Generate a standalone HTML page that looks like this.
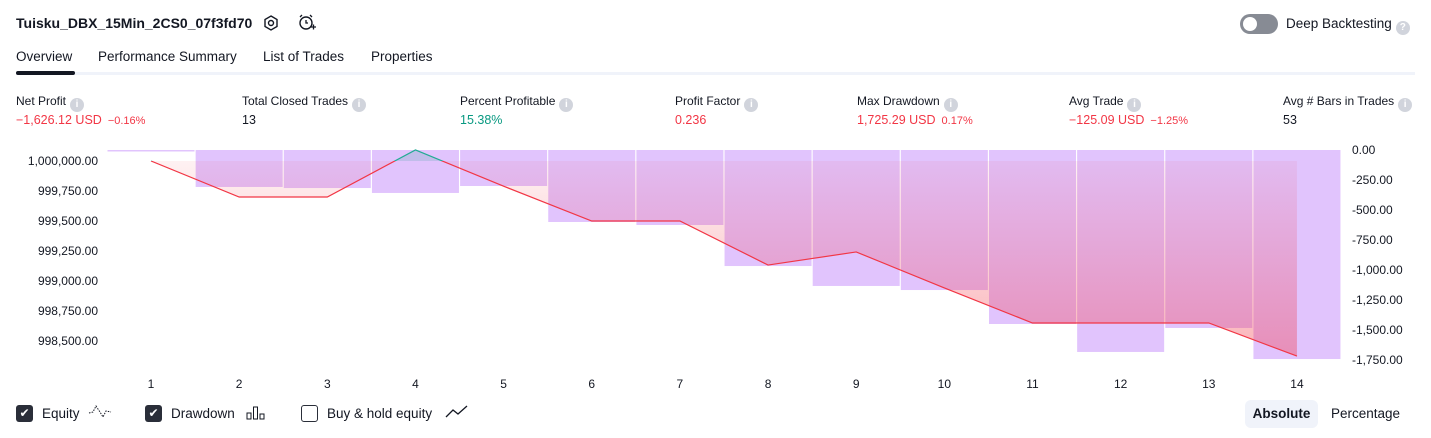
<!DOCTYPE html>
<html><head><meta charset="utf-8"><style>
*{box-sizing:border-box;margin:0;padding:0}
body{width:1431px;height:438px;background:#fff;font-family:"Liberation Sans",sans-serif;color:#131722;position:relative;overflow:hidden}
.abs{position:absolute;white-space:nowrap}
.title{left:16px;top:15px;font-size:14px;font-weight:bold}
.tab{top:49px;font-size:13.5px}
.lbl{top:94px;font-size:12px}
.val{top:113px;font-size:12.5px}
.red{color:#f23645}.green{color:#089981}
.info{display:inline-block;width:14px;height:14px;border-radius:50%;background:#d1d4dc;color:#fff;font-size:10px;text-align:center;line-height:14px;font-weight:bold;vertical-align:-2px;margin-left:4px}
.pct{font-size:11px;margin-left:6px}
.cb{width:17px;height:17px;border-radius:3px;background:#2a2e39;color:#fff;font-size:12px;text-align:center;line-height:17px}
.cbe{width:17px;height:17px;border-radius:3px;border:1.5px solid #2a2e39}
.leg{font-size:13.5px;top:406px}
</style></head><body>
<div class="abs title">Tuisku_DBX_15Min_2CS0_07f3fd70</div>
<svg class="abs" style="left:262px;top:14px" width="18" height="18"><polygon points="9,2 15,5.5 15,12.5 9,16 3,12.5 3,5.5" fill="none" stroke="#131722" stroke-width="1.4"/><circle cx="9" cy="9" r="2.5" fill="none" stroke="#131722" stroke-width="1.4"/></svg>
<svg class="abs" style="left:297px;top:13px" width="20" height="20"><circle cx="9" cy="10" r="6" fill="none" stroke="#131722" stroke-width="1.4"/><path d="M9 7v3h2M3 4l2-2M15 4l-2-2M14 14h5M16.5 11.5v5" stroke="#131722" stroke-width="1.3" fill="none"/></svg>
<div class="abs" style="left:1240px;top:14px;width:38px;height:20px;border-radius:10px;background:#878b94"><div style="position:absolute;left:3px;top:3px;width:14px;height:14px;border-radius:50%;background:#fff"></div></div>
<div class="abs" style="left:1286px;top:16px;font-size:13.5px">Deep Backtesting<span class="info">?</span></div>
<div class="abs tab" style="left:16px">Overview</div>
<div class="abs tab" style="left:98px">Performance Summary</div>
<div class="abs tab" style="left:263px">List of Trades</div>
<div class="abs tab" style="left:371px">Properties</div>
<div class="abs" style="left:16px;top:72px;width:1399px;height:3px;background:#f0f3fa"></div>
<div class="abs" style="left:16px;top:71px;width:59px;height:4px;border-radius:2px;background:#131722"></div>

<div class="abs lbl" style="left:16px">Net Profit<span class="info">i</span></div>
<div class="abs val red" style="left:16px">−1,626.12 USD<span class="pct">−0.16%</span></div>
<div class="abs lbl" style="left:242px">Total Closed Trades<span class="info">i</span></div>
<div class="abs val" style="left:242px">13</div>
<div class="abs lbl" style="left:460px">Percent Profitable<span class="info">i</span></div>
<div class="abs val green" style="left:460px">15.38%</div>
<div class="abs lbl" style="left:675px">Profit Factor<span class="info">i</span></div>
<div class="abs val red" style="left:675px">0.236</div>
<div class="abs lbl" style="left:857px">Max Drawdown<span class="info">i</span></div>
<div class="abs val red" style="left:857px">1,725.29 USD<span class="pct">0.17%</span></div>
<div class="abs lbl" style="left:1069px">Avg Trade<span class="info">i</span></div>
<div class="abs val red" style="left:1069px">−125.09 USD<span class="pct">−1.25%</span></div>
<div class="abs lbl" style="left:1283px">Avg # Bars in Trades<span class="info">i</span></div>
<div class="abs val" style="left:1283px">53</div>

<svg id="chart" class="abs" style="left:0;top:0" width="1431" height="400"></svg>

<div class="abs cb" style="left:16px;top:405px">✔</div>
<div class="abs leg" style="left:42px">Equity</div>
<svg class="abs" style="left:88px;top:404px" width="24" height="16"><path d="M1 9L5 8L8 2L12 8L15 13L18 7L23 8" fill="none" stroke="#131722" stroke-dasharray="1.5 1.2"/></svg>
<div class="abs cb" style="left:145px;top:405px">✔</div>
<div class="abs leg" style="left:171px">Drawdown</div>
<svg class="abs" style="left:246px;top:405px" width="20" height="16"><rect x="1" y="8" width="4" height="6" fill="none" stroke="#131722"/><rect x="7.5" y="2" width="4" height="12" fill="none" stroke="#131722"/><rect x="14" y="9" width="4" height="5" fill="none" stroke="#131722"/></svg>
<div class="abs cbe" style="left:301px;top:405px"></div>
<div class="abs leg" style="left:327px">Buy &amp; hold equity</div>
<svg class="abs" style="left:445px;top:404px" width="24" height="16"><path d="M1 13L8 6L13 10L22 2" fill="none" stroke="#131722" stroke-width="1.3"/></svg>
<div class="abs" style="left:1245px;top:400px;width:73px;height:28px;border-radius:6px;background:#f0f3fa;font-size:13.5px;font-weight:bold;text-align:center;line-height:28px">Absolute</div>
<div class="abs" style="left:1331px;top:406px;font-size:13.5px">Percentage</div>

<script>
const categories=[1,2,3,4,5,6,7,8,9,10,11,12,13,14];
const equity=[1000000,999700,999700,1000092,999790,999500,999500,999133,999242,998942,998650,998650,998650,998374];
const drawdown=[-8,-308,-317,-358,-300,-600,-625,-967,-1133,-1167,-1450,-1683,-1483,-1742];
const leftTicks=[1000000,999750,999500,999250,999000,998750,998500];
const rightTicks=[0,-250,-500,-750,-1000,-1250,-1500,-1750];
const NS="http://www.w3.org/2000/svg";
const svg=document.getElementById('chart');
const xS=i=>151+i*88.15;
const yL=v=>161-(v-1000000)*0.12;
const yR=v=>150-v*0.12;
function mk(t,a){const e=document.createElementNS(NS,t);for(const k in a)e.setAttribute(k,a[k]);svg.appendChild(e);return e;}
const defs=mk('defs',{});
defs.innerHTML='<linearGradient id="pg" x1="0" y1="150" x2="0" y2="360" gradientUnits="userSpaceOnUse"><stop offset="0" stop-color="#f23645" stop-opacity="0.05"/><stop offset="1" stop-color="#f23645" stop-opacity="0.38"/></linearGradient><clipPath id="below"><rect x="0" y="'+yL(1000000)+'" width="1431" height="300"/></clipPath><clipPath id="above"><rect x="0" y="0" width="1431" height="'+yL(1000000)+'"/></clipPath>';
drawdown.forEach((d,i)=>{
  const r=mk('rect',{x:xS(i)-43.5,y:yR(0),width:87,height:Math.max(1.5,yR(d)-yR(0)),fill:'#e1c4fd'});
  
  
});
const base=yL(equity[0]);
let pts=equity.map((v,i)=>xS(i)+','+yL(v)).join(' ');
const area='M'+xS(0)+','+base+' L'+pts.split(' ').join(' L')+' L'+xS(equity.length-1)+','+base+'Z';
const a1=mk('path',{d:area,fill:'url(#pg)','clip-path':'url(#below)'});


const a2=mk('path',{d:area,fill:'rgba(8,153,129,0.15)','clip-path':'url(#above)'});


const l1=mk('polyline',{points:pts,fill:'none',stroke:'#f23645','stroke-width':1.2,'clip-path':'url(#below)'});


const l2=mk('polyline',{points:pts,fill:'none',stroke:'#22ab94','stroke-width':1.2,'clip-path':'url(#above)'});


leftTicks.forEach(v=>{
  const t=mk('text',{x:98,y:yL(v)+4,'text-anchor':'end','font-size':12,fill:'#131722'});
  t.textContent=v.toLocaleString('en-US',{minimumFractionDigits:2});
  
  
});
rightTicks.forEach(v=>{
  const t=mk('text',{x:1352,y:yR(v)+4,'font-size':12,fill:'#131722'});
  t.textContent=(v<0?'-':'')+Math.abs(v).toLocaleString('en-US',{minimumFractionDigits:2});
  
  
});
categories.forEach((c,i)=>{
  const t=mk('text',{x:xS(i),y:388,'text-anchor':'middle','font-size':12,fill:'#131722'});
  t.textContent=c;
  
  
});
</script>
</body></html>
